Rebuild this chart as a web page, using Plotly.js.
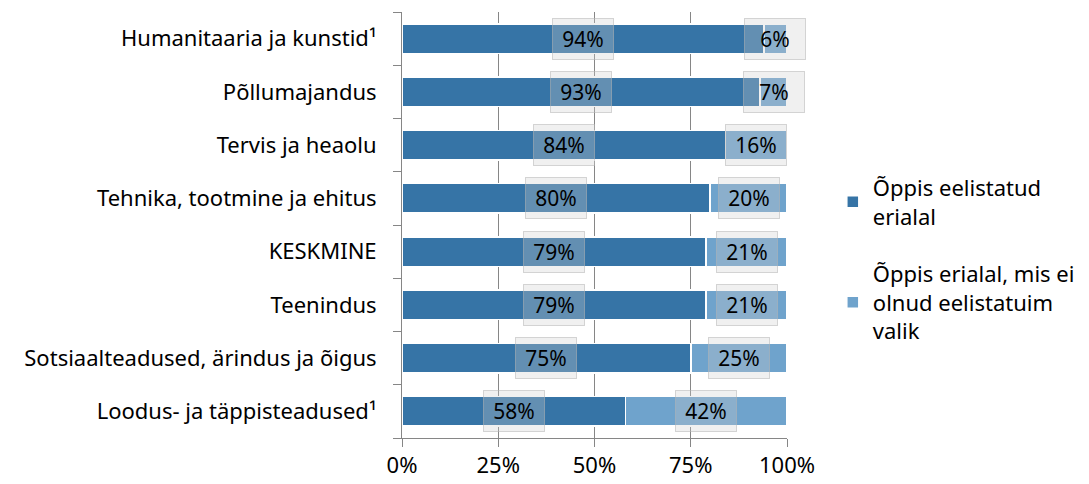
<!DOCTYPE html>
<html><head><meta charset="utf-8">
<script src="https://cdn.plot.ly/plotly-3.0.1.min.js"></script>
<style>body{margin:0;background:#fff}#c{width:1089px;height:484px}</style>
</head><body><div id="c"></div>
<script>
const categories = ["Humanitaaria ja kunstid¹","Põllumajandus","Tervis ja heaolu","Tehnika, tootmine ja ehitus","KESKMINE","Teenindus","Sotsiaalteadused, ärindus ja õigus","Loodus- ja täppisteadused¹"];
const preferred = [94,93,84,80,79,79,75,58];
const notPreferred = [6,7,16,20,21,21,25,42];
const seriesNames = ["Õppis eelistatud<br>erialal","Õppis erialal, mis ei<br>olnud eelistatuim<br>valik"];
const tickVals = [0,25,50,75,100];
const tickText = ["0%","25%","50%","75%","100%"];

const font = "'Noto Sans', 'Open Sans', sans-serif";
const fs = 22;
const cats = categories.slice().reverse();
const p = preferred.slice().reverse();
const np = notPreferred.slice().reverse();

const traces = [
  {type:"bar",orientation:"h",y:cats,x:p,name:seriesNames[0],legendgroup:"a",marker:{color:"#3674a6",line:{color:"#ffffff",width:1.5}},width:0.55,hoverinfo:"none"},
  {type:"bar",orientation:"h",y:cats,x:np,name:seriesNames[1],legendgroup:"b",marker:{color:"#6fa3cc",line:{color:"#ffffff",width:1.5}},width:0.55,hoverinfo:"none"}
];
const boxStyle = {showarrow:false,font:{family:font,size:21,color:"#000"},bgcolor:"rgba(205,205,205,0.3)",bordercolor:"rgba(180,180,180,0.55)",borderwidth:1,borderpad:2,width:56,height:36,xref:"x",yref:"y"};
const ann = [];
cats.forEach((c,i)=>{
  ann.push(Object.assign({},boxStyle,{x:p[i]/2,y:c,text:p[i]+"%"}));
  ann.push(Object.assign({},boxStyle,{x:p[i]+np[i]/2,y:c,text:np[i]+"%"}));
});
const layout = {
  width:1089,height:484,barmode:"stack",
  margin:{l:402,r:302,t:12,b:46,autoexpand:false},
  paper_bgcolor:"#fff",plot_bgcolor:"#fff",
  font:{family:font,size:fs,color:"#000"},
  xaxis:{range:[0,100],tickvals:tickVals,ticktext:tickText,showgrid:true,gridcolor:"#868686",gridwidth:1,
    showline:true,linecolor:"#868686",ticks:"outside",ticklen:8,tickcolor:"#868686",zeroline:false,tickfont:{size:fs,family:font},fixedrange:true},
  yaxis:{showline:true,linecolor:"#868686",ticks:"outside",ticklen:8,tickcolor:"#868686",tickson:"boundaries",showgrid:false,
    tickfont:{size:fs,family:font},ticklabelstandoff:20,fixedrange:true},
  legend:{x:1.119,y:0.42,xanchor:"left",yanchor:"middle",font:{size:22,family:font},tracegroupgap:26,traceorder:"grouped",itemwidth:30},
  annotations:ann,showlegend:true
};
Plotly.newPlot("c",traces,layout,{displayModeBar:false,staticPlot:true});
</script></body></html>
